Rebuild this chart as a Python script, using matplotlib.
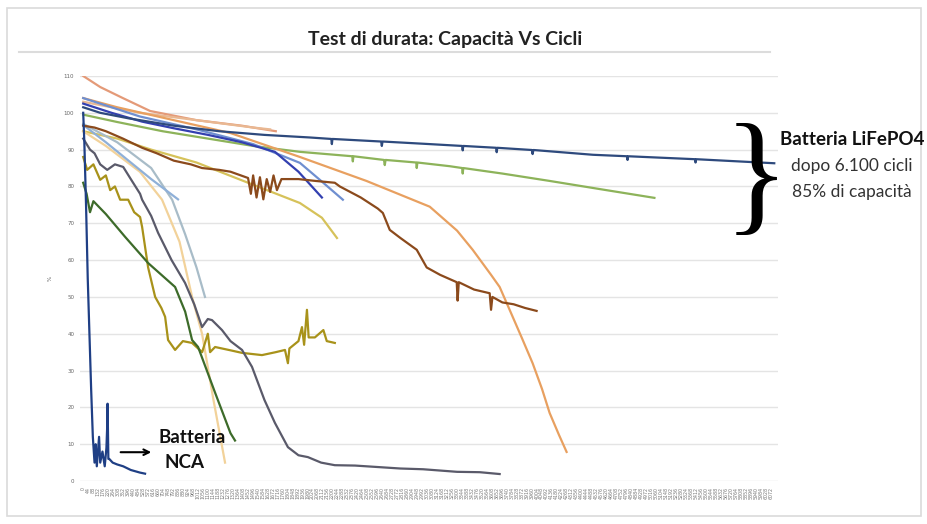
import numpy as np
import matplotlib.pyplot as plt
from matplotlib.patches import Rectangle
from matplotlib.lines import Line2D

# cicli / capacita' (%)
lfp_c = [0, 150, 400, 800, 1200, 1600, 2000, 2190, 2195, 2200, 2630, 2636, 2642, 3000, 3345, 3350, 3355,
         3645, 3650, 3655, 3960, 3967, 3974, 4500, 4800, 4805, 4810, 5400, 5405, 5410, 6100]
lfp_v = [101.5, 100, 98.5, 96.5, 95, 94, 93.3, 92.9, 91.5, 92.9, 92.2, 91, 92.2, 91.6, 91, 89.8, 91,
         90.5, 89.3, 90.5, 89.9, 88.8, 89.9, 88.6, 88.2, 87.2, 88.2, 87.4, 86.5, 87.4, 86.3]

green_c = [0, 300, 700, 1100, 1500, 1913, 2375, 2380, 2385, 2655, 2662, 2669, 2940, 2944, 2950,
           3235, 3345, 3350, 3355, 3700, 4117, 4557, 5042]
green_v = [99.5, 97.5, 95, 93, 91, 89.4, 88.2, 86.8, 88.2, 87.2, 85.8, 87.2, 86.5, 85, 86.5,
           85.5, 85, 83.5, 85, 83.5, 81.5, 79.3, 76.9]

orange_c = [0, 300, 800, 1300, 1913, 2500, 3059, 3300, 3438, 3600, 3676, 3764, 3870, 3967, 4050, 4117, 4200, 4267]
orange_v = [104, 101.5, 98, 94.5, 88, 81.5, 74.5, 68, 62.8, 56, 52.7, 46.5, 39, 32, 25, 18.5, 12.5, 7.9]

brown_c = [0, 100, 200, 350, 520, 650, 800, 950, 1049, 1200, 1300, 1455, 1480, 1500, 1530, 1560, 1590, 1620,
           1650, 1680, 1710, 1750, 1900, 2050, 2221, 2265, 2450, 2600, 2645, 2706, 2800, 2944, 3032, 3150,
           3297, 3305, 3315, 3450, 3588, 3600, 3612, 3700, 3800, 3900, 4002]
brown_v = [96.5, 96, 95, 93, 90.5, 89, 87, 86, 85, 84.5, 84, 82.3, 78, 83, 77, 82.5, 76.5, 82, 78.5,
           83, 79, 82, 82, 81.5, 81, 80, 77, 74, 72.8, 68.2, 66, 62.8, 58, 56, 54, 49, 54, 52, 51, 46.5, 50,
           48.5, 48, 47, 46.2]

blue_c = [0, 250, 520, 800, 1102, 1400, 1692, 1900, 2107]
blue_v = [102.5, 100, 97.6, 95.8, 94, 92, 89.4, 84, 77]

steel_c = [0, 500, 1000, 1500, 1913, 2100, 2292]
steel_v = [104, 99, 95.5, 91.5, 86.4, 81.5, 76.4]

lblue_c = [0, 200, 400, 600, 837]
lblue_v = [96.7, 92, 87, 82, 76.5]

grayblue_c = [0, 300, 600, 785, 900, 1000, 1075]
grayblue_v = [97, 92, 85, 76.4, 67, 58, 50]

khaki_c = [0, 300, 600, 1000, 1455, 1913, 2107, 2240]
khaki_v = [95, 93, 90, 86.5, 81, 75.5, 71.5, 66]

salmon_c = [0, 150, 350, 590, 1000, 1400, 1700]
salmon_v = [110, 107, 104, 100.5, 98, 96.5, 95]

tan_c = [0, 500, 1000, 1500, 1650]
tan_v = [103, 100, 98, 96, 95.5]

gray_c = [0, 60, 100, 150, 212, 280, 353, 420, 502, 520, 600, 661, 780, 899, 980, 1049, 1100, 1137,
          1225, 1300, 1402, 1490, 1600, 1692, 1807, 1900, 1983, 2100, 2221, 2400, 2600, 2800, 3000, 3300, 3500, 3676]
gray_v = [93, 90, 89, 86, 84.5, 86, 85.3, 82, 78, 76.4, 72, 67.4, 60, 53.8, 48, 41.8, 44, 43.7,
          41, 38, 35.6, 31, 22, 15.8, 9.2, 7, 6.5, 5, 4.3, 4.2, 3.8, 3.4, 3.2, 2.5, 2.4, 1.9]

gold_c = [0, 35, 90, 150, 200, 238, 280, 326, 397, 450, 502, 520, 573, 635, 690, 723, 749, 811, 880,
          961, 1050, 1100, 1120, 1164, 1300, 1402, 1578, 1700, 1781, 1807, 1820, 1900, 1931, 1950, 1975,
          1990, 2045, 2120, 2150, 2221]
gold_v = [88, 84.5, 86, 81.8, 83, 79, 80, 76.4, 76.4, 73, 71.7, 69, 58, 50, 47, 44.6, 38.3, 35.6, 38,
          37.5, 35, 40, 35, 36.4, 35.5, 34.8, 34.2, 35, 35.6, 32, 36, 38, 41.8, 37, 46.5,
          39, 39, 41, 38, 37.5]

peach_c = [0, 200, 500, 696, 850, 961, 1049, 1150, 1252]
peach_v = [95, 91, 84, 76.4, 65, 50, 40, 22, 5]

dgreen_c = [0, 30, 60, 90, 200, 370, 573, 811, 900, 961, 1014, 1164, 1300, 1340]
dgreen_v = [81, 78, 73, 76, 72.5, 66.3, 59.2, 52.7, 46, 38.3, 36.4, 24, 13, 11]

nca_c = [0, 10, 25, 40, 55, 70, 85, 100, 110, 120, 140, 150, 170, 190, 205, 212, 215, 222, 230,
         260, 300, 353, 420, 500, 546]
nca_v = [100, 92, 75, 55, 40, 25, 12, 5, 10, 4, 12, 5, 8, 4, 9, 15, 21, 6, 6,
         5, 4.5, 4, 3, 2.3, 2]

series = [
    (salmon_c, salmon_v, '#e49a78'),
    (tan_c, tan_v, '#e9b892'),
    (khaki_c, khaki_v, '#d6c25a'),
    (peach_c, peach_v, '#f2d29a'),
    (grayblue_c, grayblue_v, '#a8bcc8'),
    (lblue_c, lblue_v, '#8fb0d8'),
    (green_c, green_v, '#8db35a'),
    (orange_c, orange_v, '#e8a060'),
    (steel_c, steel_v, '#6f8fd0'),
    (blue_c, blue_v, '#3340b0'),
    (brown_c, brown_v, '#8b4a1c'),
    (gold_c, gold_v, '#a8921a'),
    (gray_c, gray_v, '#5a5a6a'),
    (dgreen_c, dgreen_v, '#3d6b2a'),
    (lfp_c, lfp_v, '#2e4a7d'),
    (nca_c, nca_v, '#1f3f85'),
]

y_ticks = list(range(0, 111, 10))
x_ticks = np.arange(0, 6100, 44)

fig = plt.figure(figsize=(9.28, 5.24), dpi=100)
fig.patches.append(Rectangle((0.008, 0.015), 0.984, 0.97, transform=fig.transFigure,
                             fill=False, edgecolor='#dadada', lw=1.2))
fig.lines.append(Line2D([0.02, 0.83], [0.90, 0.90], transform=fig.transFigure, color='#dcdcdc', lw=1.5))

ax = fig.add_axes([0.086, 0.082, 0.752, 0.773])
for c, v, col in series:
    ax.plot(c, v, color=col, lw=1.6, solid_joinstyle='round')

ax.set_ylim(0, 110)
ax.set_xlim(-30, 6130)
ax.set_yticks(y_ticks)
ax.set_yticklabels([str(t) for t in y_ticks], fontsize=4, color='#666666')
ax.set_xticks(x_ticks)
ax.set_xticklabels([str(int(t)) for t in x_ticks], fontsize=3.4, rotation=90, color='#777777')
ax.tick_params(length=0, pad=4)
ax.grid(axis='y', color='#e4e4e4', lw=1)
ax.set_axisbelow(True)
for s in ax.spines.values():
    s.set_visible(False)
ax.set_ylabel('%', fontsize=4, color='#666666', labelpad=8)

fig.text(0.48, 0.924, 'Test di durata: Capacità Vs Cicli', ha='center', va='center',
         fontsize=14, fontweight='bold', family='Lato', color='#222222')

fig.text(0.815, 0.648, '}', ha='center', va='center', fontsize=98, family='Liberation Serif', color='black')
fig.text(0.918, 0.733, 'Batteria LiFePO4', ha='center', va='center', fontsize=13.5,
         fontweight='bold', family='Lato', color='#111111')
fig.text(0.918, 0.683, 'dopo 6.100 cicli', ha='center', va='center', fontsize=12.5,
         family='Lato', color='#333333')
fig.text(0.918, 0.634, '85% di capacità', ha='center', va='center', fontsize=12.5,
         family='Lato', color='#333333')

ax.annotate('', xy=(0.166, 0.137), xytext=(0.127, 0.137), xycoords='figure fraction',
            textcoords='figure fraction', arrowprops=dict(arrowstyle='->', color='black', lw=1.5))
fig.text(0.207, 0.166, 'Batteria', ha='center', va='center', fontsize=13.5, fontweight='bold',
         family='Lato', color='#111111')
fig.text(0.199, 0.118, 'NCA', ha='center', va='center', fontsize=13.5, fontweight='bold',
         family='Lato', color='#111111')

fig.savefig('out.png', dpi=100)
